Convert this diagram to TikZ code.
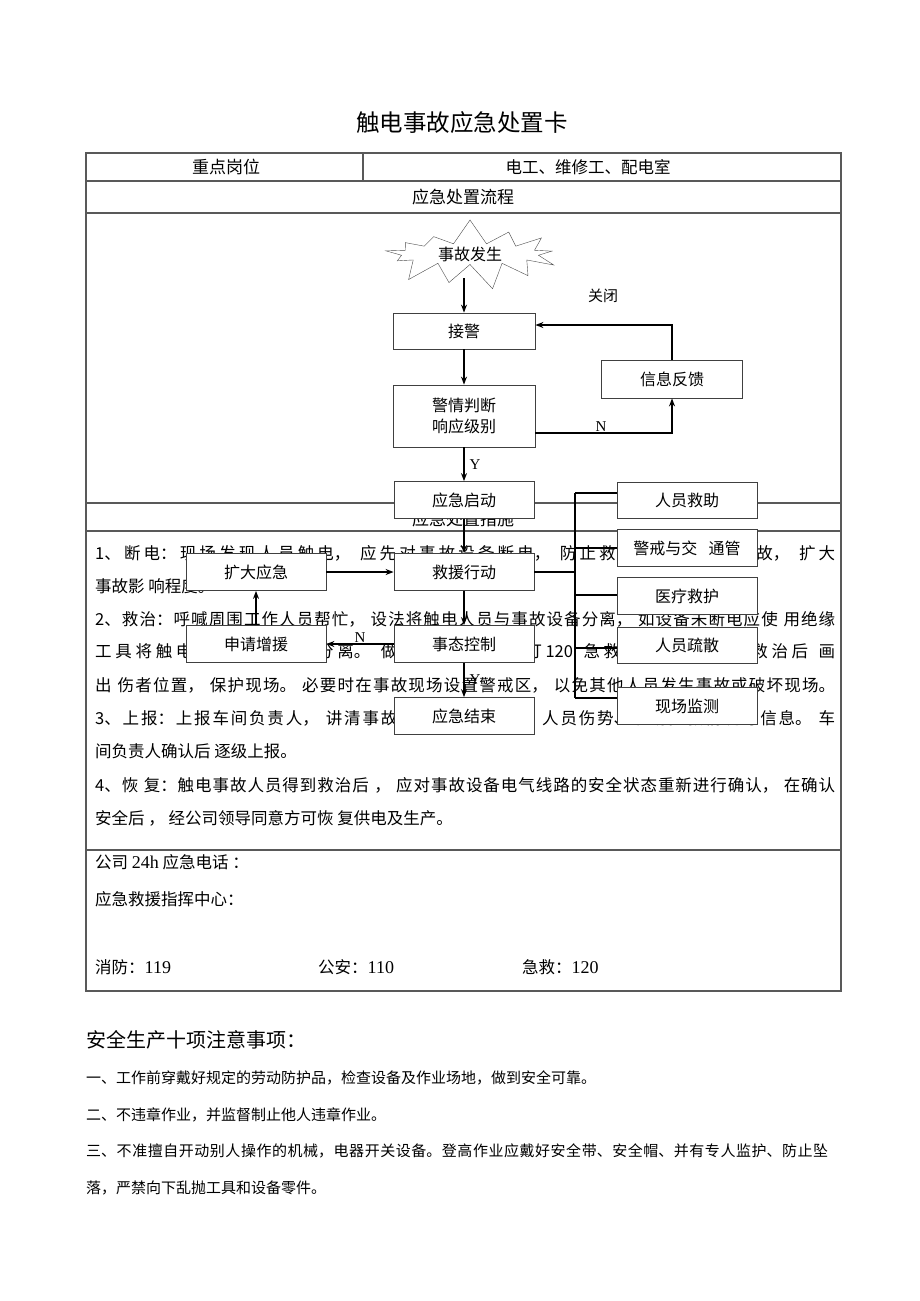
\documentclass[tikz,border=0pt]{standalone}
\usepackage{fontspec}
\setmainfont{Noto Sans CJK SC}
\newfontfamily\latinfont{Liberation Serif}
\usetikzlibrary{positioning, arrows.meta, shapes.symbols}
\XeTeXlinebreaklocale "zh"
\XeTeXlinebreakskip=0pt plus 1pt
\newcommand\jline[2]{\parbox{#1}{\parfillskip=0pt\relax #2}}

\tikzset{
  box/.style={draw=black!75, line width=0.8pt, fill=white, minimum width=140pt,
    minimum height=37pt, inner sep=0pt, font=\fontsize{16}{21}\selectfont},
  arrow/.style={-{Stealth[length=8pt,width=6pt]}, line width=1.3pt},
  link/.style={line width=1.1pt},
  grid/.style={draw=black!65, line width=1.2pt},
  txt/.style={anchor=west, inner sep=0pt, font=\fontsize{16.5}{20}\selectfont},
  note/.style={anchor=west, inner sep=0pt, font=\fontsize{15}{18}\selectfont},
  lbl/.style={font=\latinfont\fontsize{15}{15}\selectfont, inner sep=1pt}
}

\begin{document}
\begin{tikzpicture}[x=1pt, y=-1pt]
\useasboundingbox (0,0) rectangle (920,1301);

% Title
\node (title) at (462,123) {\fontsize{23.5}{23}\selectfont 触电事故应急处置卡};

% Table frame
\draw[grid] (86,153) rectangle (841,991);
\draw[grid] (86,181) -- (841,181);
\draw[grid] (86,213) -- (841,213);
\draw[grid] (86,503) -- (841,503);
\draw[grid] (86,531) -- (841,531);
\draw[grid] (86,850) -- (841,850);
\draw[grid] (363,153) -- (363,181);

\node[font=\fontsize{17}{17}\selectfont] (post) at (226,167) {重点岗位};
\node[font=\fontsize{16.5}{17}\selectfont] (crew) at (588,167) {电工、维修工、配电室};
\node[font=\fontsize{17}{17}\selectfont] (flowhd) at (463,197) {应急处置流程};
\node[font=\fontsize{17}{17}\selectfont] (measurehd) at (463,519) {应急处置措施};

% Measures
\node[txt] (l1) at (95,553) {\jline{740pt}{1、断电：现场发现人员触电， 应先对事故设备断电， 防止救人时发生二次事故， 扩大}};
\node[txt] (l2) at (95,586) {事故影 响程度。};
\node[txt] (l3) at (95,619) {\jline{740pt}{2、救治：呼喊周围工作人员帮忙， 设法将触电人员与事故设备分离， 如设备未断电应使 用绝缘}};
\node[txt] (l4) at (95,651) {\jline{740pt}{工具将触电人员与带电体分离。 做心肺复苏， 拨打120 急救， 派人接应， 救治后 画}};
\node[txt] (l5) at (95,685) {\jline{740pt}{出 伤者位置， 保护现场。 必要时在事故现场设置警戒区， 以免其他人员发生事故或破坏现场。}};
\node[txt] (l6) at (95,718) {\jline{740pt}{3、上报：上报车间负责人， 讲清事故发生时间、地点、人员伤势、现场抢救情况等信息。 车}};
\node[txt] (l7) at (95,751) {间负责人确认后 逐级上报。};
\node[txt] (l8) at (95,785) {\jline{740pt}{4、恢 复：触电事故人员得到救治后 ， 应对事故设备电气线路的安全状态重新进行确认， 在确认}};
\node[txt] (l9) at (95,818) {安全后 ， 经公司领导同意方可恢 复供电及生产。};

% Phones
\node[txt] (p1) at (95,862) {公司 {\latinfont\fontsize{18}{20}\selectfont 24h} 应急电话 ：};
\node[txt] (p2) at (95,899) {应急救援指挥中心：};
\node[txt] (fire) at (95,967) {消防：{\latinfont\fontsize{18}{20}\selectfont 119}};
\node[txt] (police) at (318,967) {公安：{\latinfont\fontsize{18}{20}\selectfont 110}};
\node[txt] (ambul) at (522,967) {急救：{\latinfont\fontsize{18}{20}\selectfont 120}};

% Flow chart
\node[draw=black!70, fill=white, starburst, starburst points=13, starburst point height=26pt,
  random starburst=7, minimum width=190pt, minimum height=62pt, inner sep=0pt,
  font=\fontsize{16}{16}\selectfont] (acc) at (470,254) {事故发生};
\node[box, minimum width=142pt, minimum height=36pt] (jj) at (464,331) {接警};
\node[box, minimum width=142pt, minimum height=62pt, align=center] (jqpd) at (464,416) {警情判断\\响应级别};
\node[box, minimum width=141pt, minimum height=38pt] (xxfk) at (672,379) {信息反馈};
\node[font=\fontsize{15}{15}\selectfont] (gb) at (603,296) {关闭};
\node[box] (yjqd) at (464,500) {应急启动};
\node[box] (jyxd) at (464,572) {救援行动};
\node[box] (kdyj) at (256,572) {扩大应急};
\node[box] (sqzy) at (256,644) {申请增援};
\node[box] (stkz) at (464,644) {事态控制};
\node[box] (yjjs) at (464,716) {应急结束};

\node[box, minimum height=36pt] (rygz) at (687,500) {人员救助};
\node[box] (jjjt) at (687,548) {警戒与交\hspace{0.7em}通管};
\node[box] (ylj) at (687,596) {医疗救护};
\node[box, minimum height=36pt] (ryss) at (687,645) {人员疏散};
\node[box] (xcjc) at (687,706) {现场监测};

\coordinate (accfoot) at (464,278);
\draw[arrow] (accfoot) -- (jj);
\draw[arrow] (jj) -- (jqpd);
\draw[arrow] ([yshift=-17pt]jqpd.east) -| node[lbl, pos=0.24, above] {N} (xxfk.south);
\draw[arrow] (xxfk.north) |- ([yshift=6pt]jj.east);
\draw[arrow] (jqpd) -- node[lbl, right=4pt] {Y} (yjqd);
\draw[arrow] (yjqd) -- (jyxd);
\draw[arrow] (kdyj) -- (jyxd);
\draw[arrow] (jyxd) -- (stkz);
\draw[arrow] (sqzy) -- (kdyj);
\draw[arrow] (stkz) -- node[lbl, above] {N} (sqzy);
\draw[arrow] (stkz) -- node[lbl, right=4pt] {Y} (yjjs);

% Branches to the rescue tasks
\coordinate (bt) at (575,493);
\coordinate (bb) at (575,698);
\draw[link] (bt) -- (bb);
\draw[link] (jyxd.east) -- (jyxd.east -| bt);
\draw[link] (bt) -- (bt -| rygz.west);
\draw[link] (jjjt.west) -- (jjjt.west -| bt);
\draw[link] ([yshift=1pt]ylj.west) -- ([yshift=1pt]ylj.west -| bt);
\draw[link] ([yshift=-3pt]ryss.west) -- ([yshift=-3pt]ryss.west -| bt);
\draw[link] (bb) -- (bb -| xcjc.west);

% Ten safety rules
\node[anchor=west, inner sep=0pt, font=\fontsize{20}{20}\selectfont] (rules) at (86,1040) {安全生产十项注意事项：};
\node[note] (r1) at (86,1078) {一、工作前穿戴好规定的劳动防护品，检查设备及作业场地，做到安全可靠。};
\node[note] (r2) at (86,1115) {二、不违章作业，并监督制止他人违章作业。};
\node[note] (r3) at (86,1151) {\jline{742pt}{三、不准擅自开动别人操作的机械，电器开关设备。登高作业应戴好安全带、安全帽、并有专人监护、防止坠}};
\node[note] (r4) at (86,1188) {落，严禁向下乱抛工具和设备零件。};
\end{tikzpicture}
\end{document}
